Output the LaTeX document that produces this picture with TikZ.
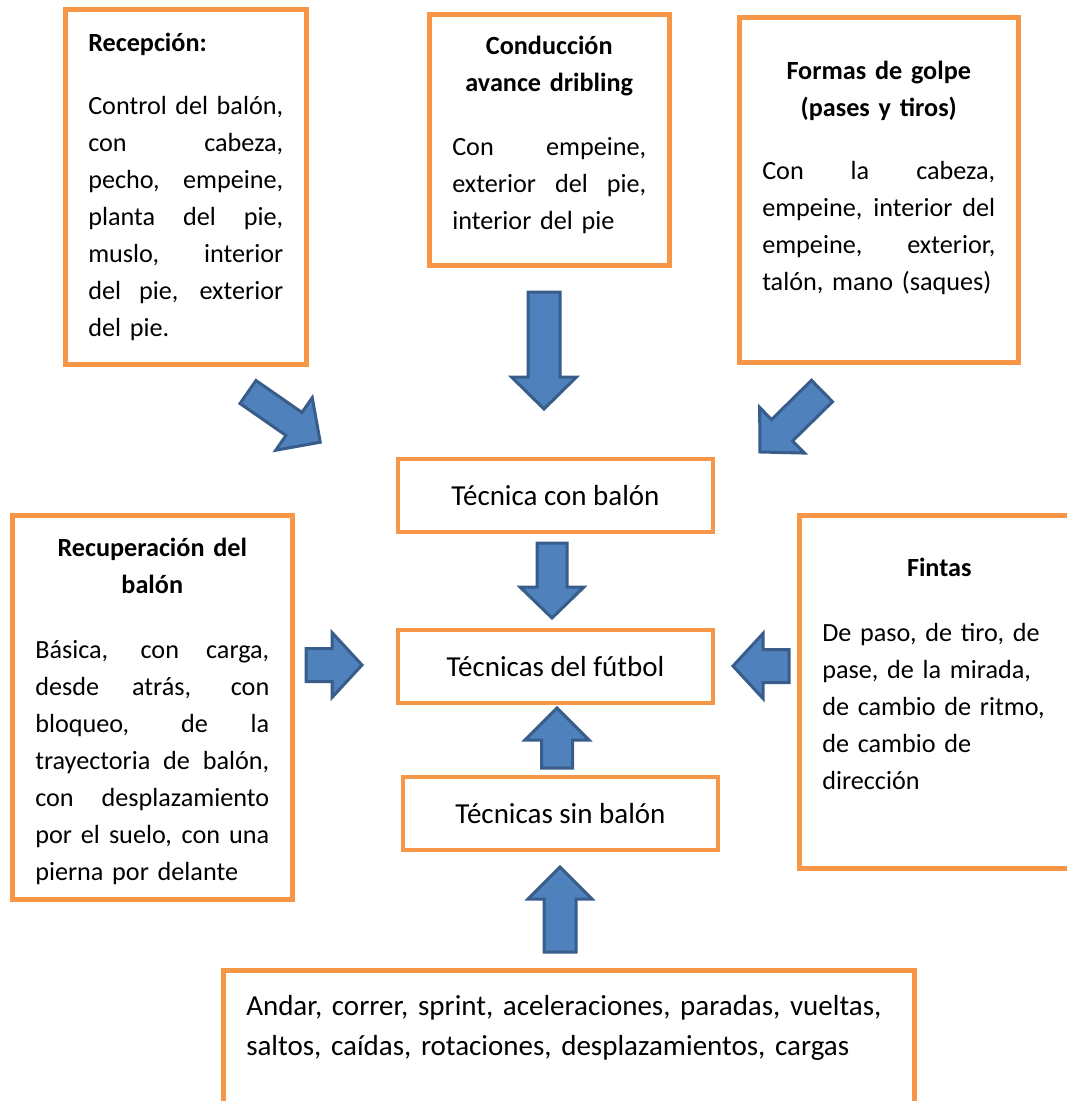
\documentclass[tikz,border=0pt]{standalone}
\usepackage{fontspec}
\setmainfont{Carlito}
\usepackage{tikz}

\definecolor{boxorange}{HTML}{F79646}
\definecolor{arrowblue}{HTML}{4F81BD}
\definecolor{arrowedge}{HTML}{385D8A}

\newcommand{\bodyfont}{\fontsize{26.2}{37}\selectfont}
\newcommand{\bigfont}{\fontsize{29}{40}\selectfont}
\newlength{\linew}
\newcommand{\fullline}[1]{\hbox to \linew{\spaceskip=0.23em plus 1fill\relax #1}}
\hyphenpenalty=10000
\exhyphenpenalty=10000
\tolerance=10000
\hbadness=10000

% tail, angle, length, half shaft, half head, head length
\newcommand{\fatarrow}[6]{%
  \draw[blockarrow,shift={(#1)},rotate=#2]
    (0,-#4) -- ({#3-#6},-#4) -- ({#3-#6},-#5) -- (#3,0)
    -- ({#3-#6},#5) -- ({#3-#6},#4) -- (0,#4) -- cycle;}

\begin{document}
\begin{tikzpicture}[
  x=1pt, y=-1pt,
  infobox/.style={draw=boxorange, line width=4.5pt, anchor=north west,
    inner xsep=23pt, inner ysep=0pt, font=\bodyfont, text width=#1,
    execute at begin node={\setlength{\linew}{#1}}},
  midbox/.style={draw=boxorange, line width=4.5pt, font=\bigfont,
    inner sep=0pt, minimum width=315pt, minimum height=73pt},
  blockarrow/.style={fill=arrowblue, draw=arrowedge, line width=3pt, line join=miter},
]
\useasboundingbox (0,0) rectangle (1067,1101);
\clip (0,0) rectangle (1067,1101);

% upper row
\node[infobox=195pt, text height=42pt, text depth=313pt] (recepcion) at (63,7)
  {\textbf{Recepción:}\par\vspace{26pt}
   \fullline{Control del balón,}\fullline{con cabeza,}\fullline{pecho, empeine,}
   \fullline{planta del pie,}\fullline{muslo, interior}\fullline{del pie, exterior}del pie.};
\node[infobox=194pt, text height=40pt, text depth=211pt] (conduccion) at (427,12)
  {{\centering\bfseries Conducción\\avance dribling\par}\vspace{27pt}
   \fullline{Con empeine,}\fullline{exterior del pie,}interior del pie};
\node[infobox=233pt, text height=62pt, text depth=283pt] (golpe) at (737,15)
  {{\centering\bfseries Formas de golpe\\(pases y tiros)\par}\vspace{26pt}
   \fullline{Con la cabeza,}\fullline{empeine, interior del}\fullline{empeine, exterior,}
   talón, mano (saques)};

% middle
\node[midbox] (conbalon) at (555.5,495.5) {Técnica con balón};
\node[midbox] (futbol) at (555.5,666.5) {Técnicas del fútbol};
\node[midbox] (sinbalon) at (560.5,813.5) {Técnicas sin balón};

\node[infobox=234pt, text height=41pt, text depth=343pt] (recuperacion) at (10,513)
  {{\centering\bfseries Recuperación del\\balón\par}\vspace{28pt}
   \fullline{Básica, con carga,}\fullline{desde atrás, con}\fullline{bloqueo, de la}
   \fullline{trayectoria de balón,}\fullline{con desplazamiento}\fullline{por el suelo, con una}
   pierna por delante};
\node[infobox=234pt, text height=61pt, text depth=292pt] (fintas) at (797,513)
  {{\centering\bfseries Fintas\par}\vspace{28pt}
   {\raggedright De paso, de tiro, de\\pase, de la mirada,\\de cambio de ritmo,\\de cambio de\\dirección\par}};

% bottom
\node[infobox=645pt, font=\bigfont, text height=45pt, text depth=140pt] (basicas) at (221,968)
  {{\raggedright Andar, correr, sprint, aceleraciones, paradas, vueltas,\\
   saltos, caídas, rotaciones, desplazamientos, cargas\par}};

% arrows
\fatarrow{248,392}{-34.8}{88}{14}{32}{32}
\fatarrow{544,292}{-90}{117}{16}{32.5}{32}
\fatarrow{822,391}{-135.5}{87}{15}{32}{31}
\fatarrow{552,543}{-90}{75}{15}{32}{31}
\fatarrow{306,665}{0}{56}{16.5}{32.5}{30}
\fatarrow{789,666}{180}{56}{16.5}{32.5}{30}
\fatarrow{557,768}{90}{60}{15.5}{32}{32}
\fatarrow{560,952}{90}{85}{16}{32}{32}
\end{tikzpicture}
\end{document}
